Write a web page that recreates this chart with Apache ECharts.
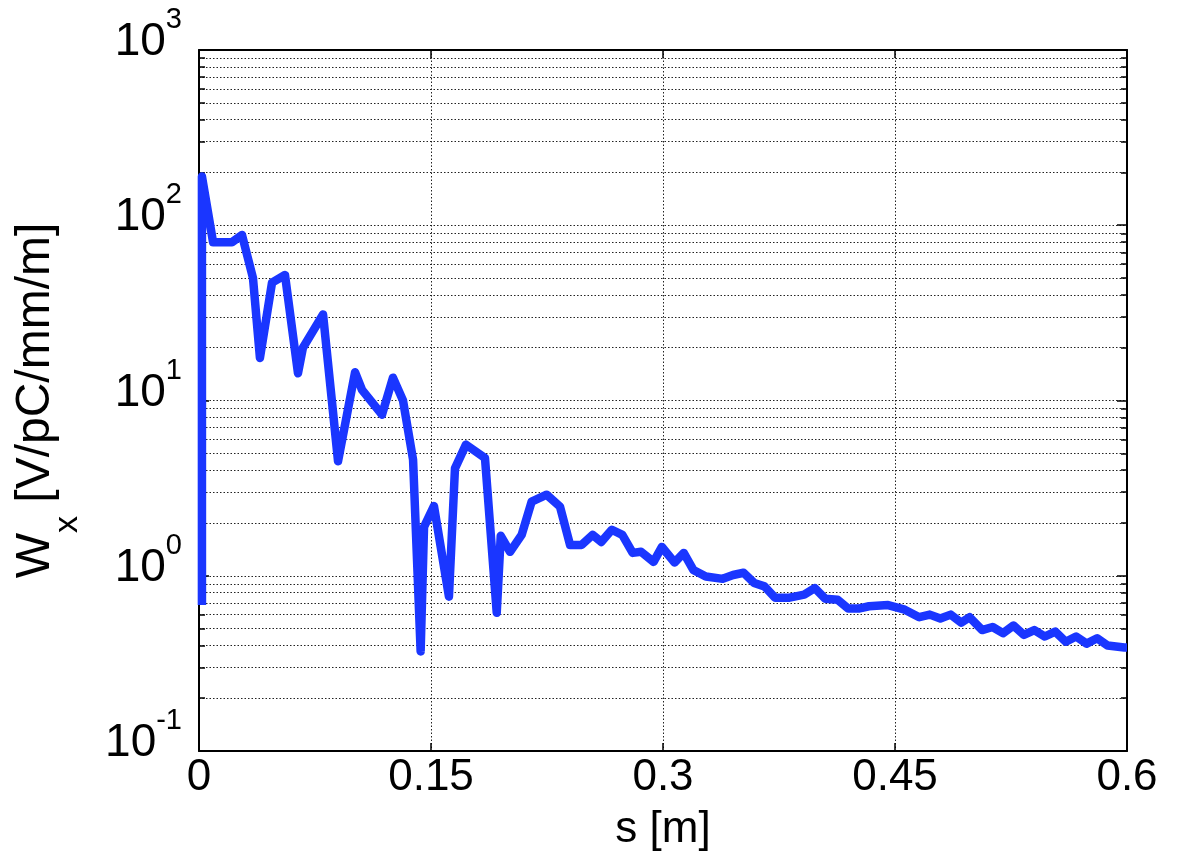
<!DOCTYPE html>
<html>
<head>
<meta charset="utf-8">
<script src="https://cdn.jsdelivr.net/npm/echarts@6/dist/echarts.min.js"></script>
<style>html,body{margin:0;padding:0;background:#fff}#c{width:1180px;height:855px}</style>
</head>
<body>
<div id="c"></div>
<script>
// s [m]
var sValues = [0.0019,0.0019,0.0091,0.0213,0.0278,0.0349,0.0394,0.0472,0.0556,0.0640,0.0672,0.0802,0.0899,0.1009,0.1054,0.1183,0.1254,0.1319,0.1384,0.1433,0.1455,0.1519,0.1616,0.1655,0.1726,0.1849,0.1925,0.1951,0.2011,0.2086,0.2151,0.2248,0.2334,0.2399,0.2474,0.2545,0.2601,0.2669,0.2737,0.2804,0.2858,0.2939,0.2993,0.3075,0.3134,0.3196,0.3277,0.3386,0.3453,0.3521,0.3589,0.3656,0.3724,0.3818,0.3913,0.3981,0.4049,0.4129,0.4197,0.4265,0.4332,0.4455,0.4563,0.4657,0.4725,0.4793,0.4860,0.4928,0.4982,0.5063,0.5131,0.5198,0.5266,0.5333,0.5401,0.5469,0.5536,0.5604,0.5671,0.5739,0.5807,0.5874,0.5983,0.6000];
// W_x [V/pC/mm/m]
var wValues = [0.68,190,80,80,88,50,17.5,47,52,14.3,20,31,4.5,14.5,11.5,8.3,13.5,10,4.6,0.37,1.9,2.5,0.76,4.1,5.6,4.7,0.615,1.69,1.37,1.71,2.65,2.9,2.48,1.5,1.5,1.71,1.56,1.83,1.71,1.35,1.37,1.2,1.46,1.19,1.35,1.08,0.99,0.96,1.01,1.04,0.91,0.87,0.75,0.75,0.78,0.85,0.74,0.73,0.65,0.65,0.67,0.68,0.64,0.58,0.60,0.57,0.60,0.54,0.58,0.49,0.51,0.47,0.52,0.46,0.49,0.45,0.48,0.42,0.45,0.41,0.44,0.40,0.39,0.39];
var xTicks = [0, 0.15, 0.3, 0.45, 0.6];
var yDecades = [0.1, 1, 10, 100, 1000];

var FONT = 'Liberation Sans, Arial, Helvetica, sans-serif';
var dotted = {color: '#222', width: 1, type: [1.5, 2]};

var chart = echarts.init(document.getElementById('c'), null, {renderer: 'canvas'});
var data = sValues.map(function (s, i) { return [s, wValues[i]]; });

function yLabel(v) {
  var e = Math.round(Math.log10(v));
  return '{b|10}{s|' + e + '}';
}

chart.setOption({
  animation: false,
  backgroundColor: '#fff',
  grid: {left: 199, right: 53, top: 50, bottom: 104, containLabel: false, outerBoundsMode: 'none'},
  xAxis: [{
    type: 'value', min: xTicks[0], max: xTicks[xTicks.length - 1], interval: 0.15,
    position: 'bottom',
    axisLine: {show: true, onZero: false, lineStyle: {color: '#000', width: 2}},
    axisTick: {show: true, inside: true, length: 8, lineStyle: {color: '#000', width: 1.5}},
    axisLabel: {fontSize: 44, color: '#000', fontFamily: FONT, margin: 5},
    splitLine: {show: true, lineStyle: dotted},
    name: 's [m]', nameLocation: 'middle', nameGap: 57,
    nameTextStyle: {fontSize: 44, color: '#000', fontFamily: FONT}
  }, {
    type: 'value', min: xTicks[0], max: xTicks[xTicks.length - 1], interval: 0.15,
    position: 'top',
    axisLine: {show: true, onZero: false, lineStyle: {color: '#000', width: 2}},
    axisTick: {show: true, inside: true, length: 8, lineStyle: {color: '#000', width: 1.5}},
    axisLabel: {show: false},
    splitLine: {show: false}
  }],
  yAxis: [{
    type: 'log', logBase: 10, min: yDecades[0], max: yDecades[yDecades.length - 1],
    position: 'left',
    axisLine: {show: true, onZero: false, lineStyle: {color: '#000', width: 2}},
    axisTick: {show: true, inside: true, length: 10, lineStyle: {color: '#000', width: 1.5}},
    minorTick: {show: true, splitNumber: 9, length: 6, lineStyle: {color: '#000', width: 1.5}},
    splitLine: {show: true, lineStyle: dotted},
    minorSplitLine: {show: true, lineStyle: dotted},
    axisLabel: {
      margin: 17, color: '#000', fontFamily: FONT,
      formatter: yLabel,
      rich: {
        b: {fontSize: 46, color: '#000', fontFamily: FONT, padding: [0, 0, 15, 0]},
        s: {fontSize: 29, color: '#000', fontFamily: FONT, padding: [0, 0, 60, 0]}
      }
    },
    name: '{a|W}{sub|x}{a| [V/pC/mm/m]}',
    nameLocation: 'middle', nameGap: 114, nameRotate: 90,
    nameTextStyle: {
      color: '#000', fontFamily: FONT,
      rich: {
        a: {fontSize: 48, color: '#000', fontFamily: FONT},
        sub: {fontSize: 34, color: '#000', fontFamily: FONT, padding: [64, 0, 0, 0]}
      }
    }
  }, {
    type: 'log', logBase: 10, min: yDecades[0], max: yDecades[yDecades.length - 1],
    position: 'right',
    axisLine: {show: true, onZero: false, lineStyle: {color: '#000', width: 2}},
    axisTick: {show: true, inside: true, length: 10, lineStyle: {color: '#000', width: 1.5}},
    minorTick: {show: true, splitNumber: 9, length: 6, lineStyle: {color: '#000', width: 1.5}},
    axisLabel: {show: false},
    splitLine: {show: false}
  }],
  series: [{
    type: 'line',
    xAxisIndex: 0, yAxisIndex: 0,
    data: data,
    showSymbol: false,
    symbol: 'none',
    lineStyle: {color: '#1a36ff', width: 8.5, join: 'round'},
    z: 5
  }]
});
</script>
</body>
</html>
